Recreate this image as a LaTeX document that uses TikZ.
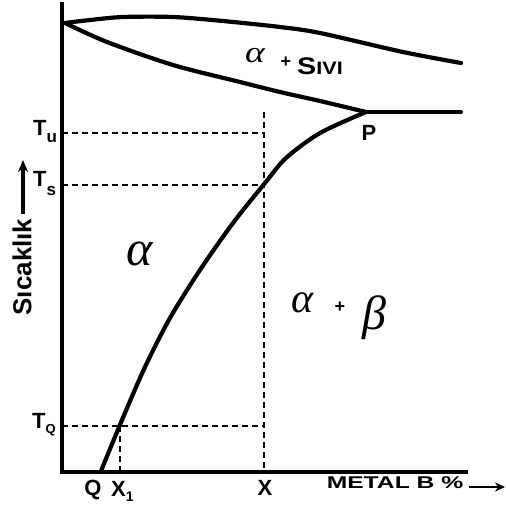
\RequirePackage{fix-cm}
\documentclass[tikz,border=0pt]{standalone}
\usepackage{fontspec}
\setmainfont{Liberation Sans}
\newfontfamily\grkfont{Liberation Serif}
\usetikzlibrary{arrows.meta}
\begin{document}
\begin{tikzpicture}[x=1pt,y=-1pt,
  curve/.style={line width=4.2pt, line cap=round, line join=round},
  axisline/.style={line width=4pt, line cap=rect},
  guide/.style={line width=1.8pt, dash pattern=on 6pt off 4pt},
  lbl/.style={inner sep=0pt, font=\fontsize{22}{24}\selectfont\bfseries},
  greek/.style={inner sep=0pt}]
\useasboundingbox (0,0) rectangle (506,506);
% key points
\coordinate (O) at (62,472);
\coordinate (ytop) at (62,4);
\coordinate (xend) at (466,472);
\coordinate (A) at (65,23);
\coordinate (P) at (366,112);
\coordinate (Lend) at (461,63);
\coordinate (Hend) at (461,112);
\coordinate (Qpt) at (101,471);
\coordinate (Tu) at (62,133);
\coordinate (Ts) at (62,185);
\coordinate (Tq) at (62,426);
\coordinate (Xtop) at (264,112);
\coordinate (Xbot) at (264,472);
\coordinate (Xu) at (264,133);
\coordinate (Xs) at (264,185);
\coordinate (Xq) at (264,426);
\coordinate (X1q) at (120,426);
\coordinate (X1b) at (120,472);
% axes
\draw[axisline] (ytop) -- (O) -- (xend);
% liquidus
\draw[curve] plot[smooth] coordinates {(65,23) (90,20) (123,17) (173,17) (223,21) (280,27) (320,33) (403,52) (461,63)};
% solidus
\draw[curve] plot[smooth] coordinates {(65,23) (107,42) (173,65) (240,82) (280,92) (320,101) (366,112)};
\draw[curve] (P) -- (Hend);
% solvus
\draw[curve] plot[smooth] coordinates {(366,112) (320,133) (286,158) (265,183) (233,223) (200,270) (170,318) (145,367) (122,420) (101,471)};
% guides
\draw[guide] (Tu) -- (Xu);
\draw[guide] (Ts) -- (Xs);
\draw[guide] (Tq) -- (Xq);
\draw[guide] (Xtop) -- (Xbot);
\draw[guide] (X1q) -- (X1b);
% axis labels
\node[lbl, anchor=base west] (tu) at (33,135) {T\raisebox{-7pt}{\fontsize{17}{17}\selectfont u}};
\node[lbl, anchor=base west] (ts) at (33,186) {T\raisebox{-9pt}{\fontsize{17}{17}\selectfont s}};
\node[lbl, anchor=base west] (tq) at (32,428) {T\raisebox{-5pt}{\fontsize{13}{13}\selectfont Q}};
\node[inner sep=0pt, rotate=90, font=\fontsize{26}{28}\selectfont\bfseries] (ylab) at (22,267) {Sıcaklık};
\coordinate (ya) at (23,214);
\coordinate (yb) at (23,160);
\draw[line width=3.2pt, -{Stealth[length=12pt,width=10pt]}] (ya) -- (yb);
\node[lbl] (q) at (93,490) {Q};
\node[lbl, anchor=base west] (x1) at (111,496) {X\raisebox{-5pt}{\fontsize{14}{14}\selectfont 1}};
\node[lbl] (x) at (265,488) {X};
\node[inner sep=0pt, font=\fontsize{17}{18}\selectfont\bfseries] (metal) at (395,483) {\scalebox{1.45}[1]{METAL B \%}};
\coordinate (xa) at (469,487);
\coordinate (xb) at (505,487);
\draw[line width=2.8pt, -{Stealth[length=10pt,width=9pt]}] (xa) -- (xb);
% region labels
\node[greek, font=\fontsize{50}{50}\grkfont\itshape] (alpha) at (140,254) {α};
\node[greek, font=\fontsize{30}{30}\grkfont\itshape] (liqa) at (255,56) {\scalebox{1.25}[1]{α}};
\node[inner sep=0pt, font=\fontsize{18}{18}\selectfont\bfseries] (plus1) at (286,62) {+};
\node[inner sep=0pt, anchor=base west] (sivi) at (297,74) {\bfseries\scalebox{1.2}[1]{\fontsize{24}{24}\selectfont S\fontsize{18}{18}\selectfont IVI}};
\node[greek, font=\fontsize{42}{42}\grkfont\itshape] (ab1) at (303,303) {α};
\node[inner sep=0pt, font=\fontsize{18}{18}\selectfont\bfseries] (plus2) at (340,307) {+};
\node[greek, font=\fontsize{48}{48}\grkfont\itshape] (beta) at (374,318) {β};
\node[lbl] (p) at (369,133) {P};
\end{tikzpicture}
\end{document}
